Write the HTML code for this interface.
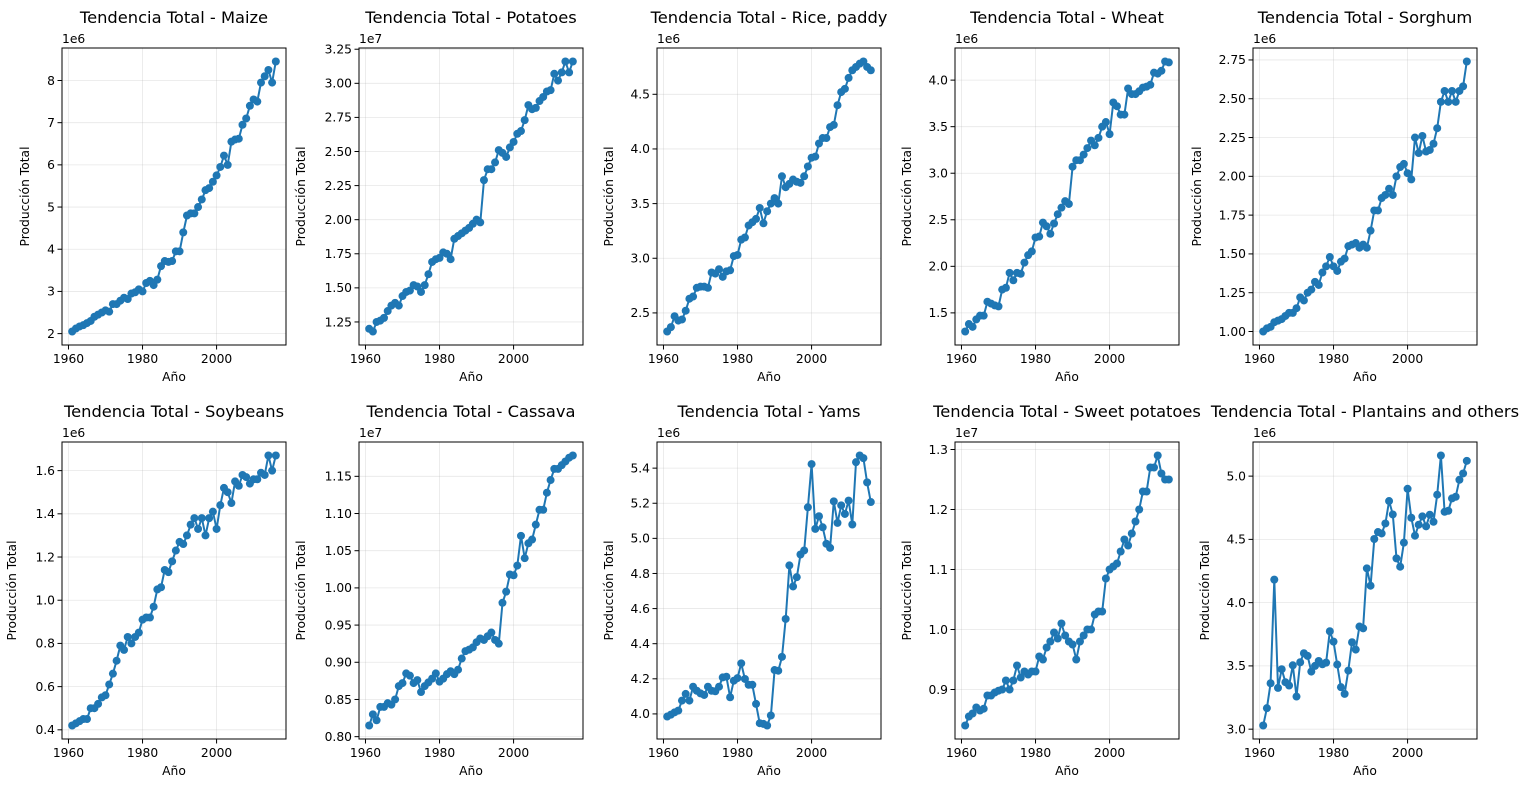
<!DOCTYPE html>
<html><head><meta charset="utf-8"><style>
html,body{margin:0;padding:0;background:#fff;}
svg{display:block;font-family:"DejaVu Sans","Liberation Sans",sans-serif;}
</style></head><body>
<svg id="fig" width="1535" height="790" viewBox="0 0 1535 790" xmlns="http://www.w3.org/2000/svg"></svg>
<script>
const startYear = 1961;
const xTicks = [1960, 1980, 2000];
const cropNames = ["Maize","Potatoes","Rice, paddy","Wheat","Sorghum","Soybeans","Cassava","Yams","Sweet potatoes","Plantains and others"];
const exponents = ["1e6","1e7","1e6","1e6","1e6","1e6","1e7","1e6","1e7","1e6"];
const maize = [2.05,2.12,2.17,2.2,2.25,2.3,2.4,2.45,2.5,2.55,2.52,2.7,2.7,2.78,2.85,2.82,2.95,2.98,3.05,3.0,3.2,3.25,3.15,3.28,3.6,3.72,3.7,3.72,3.95,3.95,4.4,4.8,4.85,4.85,5.0,5.18,5.4,5.45,5.6,5.75,5.95,6.22,6.0,6.55,6.6,6.62,6.95,7.1,7.4,7.55,7.5,7.95,8.1,8.25,7.95,8.45];
const potatoes = [1.2,1.18,1.25,1.26,1.28,1.33,1.37,1.39,1.37,1.44,1.47,1.48,1.52,1.51,1.47,1.52,1.6,1.69,1.71,1.72,1.76,1.75,1.71,1.86,1.88,1.9,1.92,1.94,1.97,2.0,1.98,2.29,2.37,2.37,2.42,2.51,2.49,2.46,2.53,2.57,2.63,2.65,2.73,2.84,2.81,2.82,2.87,2.9,2.94,2.95,3.07,3.02,3.08,3.16,3.08,3.16];
const rice = [2.33,2.37,2.47,2.43,2.44,2.52,2.63,2.65,2.73,2.74,2.74,2.73,2.87,2.86,2.9,2.83,2.88,2.89,3.02,3.03,3.17,3.19,3.3,3.33,3.36,3.46,3.32,3.43,3.5,3.55,3.5,3.75,3.65,3.68,3.72,3.7,3.69,3.75,3.84,3.92,3.93,4.05,4.1,4.1,4.2,4.22,4.4,4.52,4.55,4.65,4.72,4.75,4.78,4.8,4.75,4.72];
const wheat = [1.3,1.38,1.35,1.43,1.47,1.47,1.62,1.6,1.58,1.57,1.75,1.77,1.93,1.85,1.93,1.92,2.04,2.12,2.16,2.31,2.32,2.47,2.43,2.35,2.46,2.56,2.63,2.7,2.67,3.07,3.14,3.14,3.2,3.27,3.35,3.3,3.38,3.5,3.55,3.42,3.76,3.72,3.63,3.63,3.91,3.85,3.85,3.88,3.92,3.93,3.95,4.08,4.07,4.1,4.2,4.19];
const sorghum = [1.0,1.02,1.03,1.06,1.07,1.08,1.1,1.12,1.12,1.15,1.22,1.2,1.25,1.27,1.32,1.3,1.38,1.42,1.48,1.42,1.39,1.45,1.47,1.55,1.56,1.57,1.54,1.56,1.54,1.65,1.78,1.78,1.86,1.88,1.92,1.88,2.0,2.06,2.08,2.02,1.98,2.25,2.15,2.26,2.16,2.17,2.21,2.31,2.48,2.55,2.48,2.55,2.48,2.55,2.58,2.74];
const soybeans = [0.42,0.43,0.44,0.45,0.45,0.5,0.5,0.52,0.55,0.56,0.61,0.66,0.72,0.79,0.77,0.83,0.8,0.83,0.85,0.91,0.92,0.92,0.97,1.05,1.06,1.14,1.13,1.18,1.23,1.27,1.26,1.3,1.35,1.38,1.33,1.38,1.3,1.38,1.41,1.33,1.44,1.52,1.5,1.45,1.55,1.53,1.58,1.57,1.54,1.56,1.56,1.59,1.58,1.67,1.6,1.67];
const cassava = [0.815,0.83,0.822,0.84,0.84,0.845,0.843,0.85,0.868,0.872,0.885,0.882,0.872,0.876,0.86,0.868,0.873,0.878,0.885,0.874,0.878,0.884,0.888,0.884,0.89,0.905,0.915,0.917,0.92,0.927,0.932,0.93,0.935,0.94,0.93,0.925,0.98,0.995,1.018,1.017,1.03,1.07,1.04,1.06,1.065,1.085,1.105,1.105,1.128,1.145,1.16,1.16,1.165,1.17,1.175,1.178];
const yams = [3.985,3.996,4.009,4.019,4.076,4.114,4.076,4.155,4.132,4.117,4.108,4.155,4.132,4.129,4.155,4.208,4.212,4.095,4.189,4.204,4.288,4.199,4.166,4.166,4.057,3.947,3.943,3.934,3.991,4.25,4.246,4.325,4.541,4.846,4.726,4.779,4.908,4.931,5.177,5.423,5.054,5.126,5.063,4.969,4.946,5.211,5.088,5.188,5.139,5.215,5.079,5.434,5.472,5.457,5.319,5.207];
const sweetPotatoes = [0.84,0.855,0.86,0.87,0.865,0.868,0.89,0.89,0.895,0.898,0.9,0.915,0.9,0.915,0.94,0.92,0.93,0.925,0.93,0.93,0.955,0.95,0.97,0.98,0.995,0.985,1.01,0.99,0.98,0.975,0.95,0.98,0.99,1.0,1.0,1.025,1.03,1.03,1.085,1.1,1.105,1.11,1.13,1.15,1.14,1.16,1.18,1.2,1.23,1.23,1.27,1.27,1.29,1.26,1.25,1.25];
const plantains = [3.029,3.166,3.363,4.182,3.326,3.474,3.371,3.345,3.505,3.258,3.529,3.6,3.579,3.455,3.5,3.539,3.513,3.526,3.774,3.692,3.511,3.332,3.279,3.463,3.687,3.629,3.811,3.797,4.271,4.134,4.503,4.558,4.547,4.626,4.803,4.697,4.35,4.284,4.474,4.9,4.671,4.529,4.616,4.682,4.603,4.695,4.639,4.853,5.163,4.718,4.726,4.824,4.837,4.971,5.021,5.121];
const yTicksMaize = [2,3,4,5,6,7,8];
const yTicksPotatoes = [1.25,1.5,1.75,2.0,2.25,2.5,2.75,3.0,3.25];
const yTicksRice = [2.5,3.0,3.5,4.0,4.5];
const yTicksWheat = [1.5,2.0,2.5,3.0,3.5,4.0];
const yTicksSorghum = [1.0,1.25,1.5,1.75,2.0,2.25,2.5,2.75];
const yTicksSoybeans = [0.4,0.6,0.8,1.0,1.2,1.4,1.6];
const yTicksCassava = [0.80,0.85,0.90,0.95,1.00,1.05,1.10,1.15];
const yTicksYams = [4.0,4.2,4.4,4.6,4.8,5.0,5.2,5.4];
const yTicksSweet = [0.9,1.0,1.1,1.2,1.3];
const yTicksPlantains = [3.0,3.5,4.0,4.5,5.0];
const yTickDecimals = [0,2,1,1,2,1,2,1,1,1];

const seriesList = [maize,potatoes,rice,wheat,sorghum,soybeans,cassava,yams,sweetPotatoes,plantains];
const tickList = [yTicksMaize,yTicksPotatoes,yTicksRice,yTicksWheat,yTicksSorghum,yTicksSoybeans,yTicksCassava,yTicksYams,yTicksSweet,yTicksPlantains];
const colLefts = [62,359,657,955,1253];
const rowTops = [48,442];
const axW = 224, axH = 297;
const ylabelOffsets = [33,54,44,44,52,46,54,44,44,44];
const NS = "http://www.w3.org/2000/svg";
const fig = document.getElementById('fig');
function mk(tag, attrs, parent){ const e=document.createElementNS(NS,tag); for(const k in attrs) e.setAttribute(k,attrs[k]); (parent||fig).appendChild(e); return e; }
const slug = s => s.toLowerCase().replace(/[^a-z0-9]+/g,'-').replace(/-$/,'');
const FS = 12.3;

seriesList.forEach((vals, idx) => {
  const L = colLefts[idx%5], T = rowTops[Math.floor(idx/5)], B = T+axH, R = L+axW;
  const name = slug(cropNames[idx]);
  const g = mk('g',{});
  
  
  const n = vals.length;
  const x0 = startYear, x1 = startYear+n-1, xp=(x1-x0)*0.05;
  const xmin=x0-xp, xmax=x1+xp;
  const vmin=Math.min(...vals), vmax=Math.max(...vals), yp=(vmax-vmin)*0.05;
  const ymin=vmin-yp, ymax=vmax+yp;
  const sx = v => L+(v-xmin)/(xmax-xmin)*axW;
  const sy = v => B-(v-ymin)/(ymax-ymin)*axH;
  xTicks.forEach(t => {
    const gl = mk('line',{x1:sx(t),x2:sx(t),y1:T,y2:B,stroke:'#b0b0b0','stroke-opacity':0.3,'stroke-width':0.8},g);
    
    
  });
  tickList[idx].forEach(t => {
    if (t<ymin||t>ymax) return;
    const gl = mk('line',{x1:L,x2:R,y1:sy(t),y2:sy(t),stroke:'#b0b0b0','stroke-opacity':0.3,'stroke-width':0.8},g);
    
    
  });
  const pts = vals.map((v,i)=>sx(x0+i).toFixed(1)+','+sy(v).toFixed(1)).join(' ');
  const pl = mk('polyline',{points:pts,fill:'none',stroke:'#1f77b4','stroke-width':2,'stroke-linejoin':'round'},g);
  
  
  vals.forEach((v,i)=>{
    const c = mk('circle',{cx:sx(x0+i),cy:sy(v),r:4,fill:'#1f77b4'},g);
    
    
  });
  const fr = mk('rect',{x:L,y:T,width:axW,height:axH,fill:'none',stroke:'#000','stroke-width':1},g);
  
  
  xTicks.forEach(t=>{
    mk('line',{x1:sx(t),x2:sx(t),y1:B,y2:B+4.5,stroke:'#000','stroke-width':1},g);
    const tx = mk('text',{x:sx(t),y:B+18,'font-size':FS,'text-anchor':'middle',fill:'#000'},g);
    tx.textContent = t;
    
    
  });
  tickList[idx].forEach(t=>{
    if (t<ymin||t>ymax) return;
    mk('line',{x1:L-4.5,x2:L,y1:sy(t),y2:sy(t),stroke:'#000','stroke-width':1},g);
    const tx = mk('text',{x:L-7,y:sy(t)+4.3,'font-size':FS,'text-anchor':'end',fill:'#000'},g);
    tx.textContent = t.toFixed(yTickDecimals[idx]);
    
    
  });
  const ex = mk('text',{x:L,y:T-5,'font-size':FS,fill:'#000'},g);
  ex.textContent = exponents[idx];
  
  
  const ti = mk('text',{x:L+axW/2,y:T-25,'font-size':16.3,'text-anchor':'middle',fill:'#000'},g);
  ti.textContent = 'Tendencia Total - '+cropNames[idx];
  
  
  const xl = mk('text',{x:L+axW/2,y:B+36,'font-size':FS,'text-anchor':'middle',fill:'#000'},g);
  xl.textContent = 'Año';
  
  
  const yx = L-ylabelOffsets[idx], yy = T+axH/2;
  const yl = mk('text',{x:yx,y:yy,'font-size':FS,'text-anchor':'middle',fill:'#000',transform:`rotate(-90 ${yx} ${yy})`},g);
  yl.textContent = 'Producción Total';
  
  
});
</script>
</body></html>
